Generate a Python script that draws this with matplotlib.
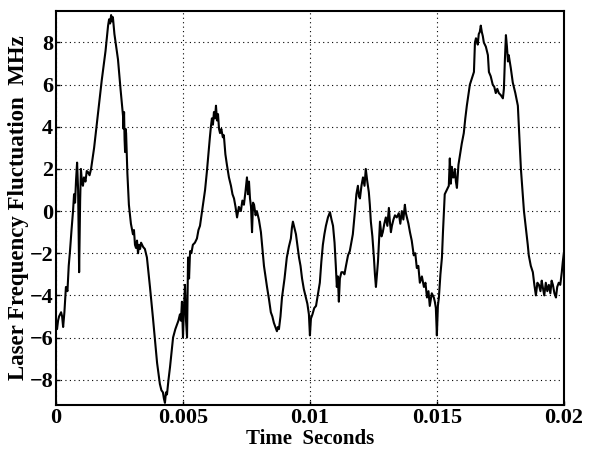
import numpy as np
import matplotlib
matplotlib.use("Agg")
import matplotlib.pyplot as plt

# trace, time in ms, frequency in MHz
t_ms = [0.00, 0.04, 0.08, 0.12, 0.16, 0.20, 0.24, 0.28, 0.33, 0.39, 0.45, 0.50, 0.55, 0.61,
        0.67, 0.71, 0.75, 0.79, 0.83, 0.87, 0.91, 0.95, 0.98, 1.02, 1.06, 1.10, 1.16, 1.21,
        1.26, 1.32, 1.38, 1.50, 1.65, 1.80, 1.95, 2.05, 2.09, 2.13, 2.17, 2.20, 2.24, 2.30,
        2.37, 2.44, 2.54, 2.64, 2.66, 2.68, 2.70, 2.72, 2.74, 2.76, 2.81, 2.87, 2.95, 3.03,
        3.07, 3.11, 3.15, 3.19, 3.23, 3.27, 3.31, 3.35, 3.43, 3.50, 3.58, 3.70, 3.82, 3.98,
        4.09, 4.15, 4.21, 4.25, 4.29, 4.33, 4.37, 4.43, 4.49, 4.61, 4.70, 4.76, 4.82, 4.88,
        4.92, 4.96, 5.00, 5.04, 5.08, 5.12, 5.16, 5.20, 5.24, 5.28, 5.33, 5.39, 5.47, 5.55,
        5.61, 5.67, 5.79, 5.87, 5.94, 6.00, 6.06, 6.10, 6.14, 6.18, 6.22, 6.26, 6.30, 6.34,
        6.38, 6.42, 6.46, 6.51, 6.57, 6.61, 6.67, 6.73, 6.81, 6.89, 6.95, 7.01, 7.07, 7.13,
        7.20, 7.28, 7.34, 7.40, 7.46, 7.52, 7.56, 7.60, 7.64, 7.68, 7.72, 7.76, 7.80, 7.86,
        7.91, 7.99, 8.07, 8.19, 8.31, 8.39, 8.46, 8.52, 8.58, 8.64, 8.70, 8.74, 8.78, 8.84,
        8.90, 9.00, 9.09, 9.17, 9.25, 9.29, 9.33, 9.39, 9.45, 9.57, 9.63, 9.69, 9.76, 9.84,
        9.90, 9.96, 10.00, 10.04, 10.10, 10.17, 10.24, 10.31, 10.39, 10.45, 10.51, 10.57,
        10.63, 10.71, 10.79, 10.85, 10.91, 10.97, 11.02, 11.06, 11.10, 11.14, 11.18, 11.24,
        11.30, 11.36, 11.42, 11.50, 11.57, 11.63, 11.69, 11.73, 11.77, 11.83, 11.89, 11.93,
        11.97, 12.03, 12.09, 12.15, 12.20, 12.26, 12.32, 12.36, 12.40, 12.46, 12.52, 12.56,
        12.60, 12.64, 12.68, 12.72, 12.76, 12.82, 12.87, 12.93, 12.99, 13.05, 13.11, 13.15,
        13.19, 13.23, 13.29, 13.35, 13.42, 13.50, 13.56, 13.62, 13.68, 13.74, 13.78, 13.82,
        13.88, 13.94, 14.01, 14.09, 14.15, 14.21, 14.27, 14.33, 14.41, 14.49, 14.55, 14.61,
        14.67, 14.72, 14.80, 14.88, 14.92, 14.96, 15.00, 15.04, 15.08, 15.14, 15.20, 15.24,
        15.28, 15.31, 15.39, 15.47, 15.51, 15.55, 15.59, 15.63, 15.67, 15.71, 15.75, 15.79,
        15.85, 15.91, 15.98, 16.06, 16.12, 16.18, 16.24, 16.30, 16.38, 16.46, 16.50, 16.54,
        16.57, 16.61, 16.65, 16.69, 16.73, 16.77, 16.81, 16.85, 16.93, 17.01, 17.05, 17.12,
        17.20, 17.26, 17.32, 17.38, 17.44, 17.52, 17.60, 17.64, 17.68, 17.72, 17.76, 17.80,
        17.83, 17.91, 17.99, 18.09, 18.19, 18.23, 18.31, 18.43, 18.58, 18.62, 18.70,
        18.78, 18.84, 18.90, 18.96, 19.02, 19.08, 19.13, 19.17, 19.23, 19.29, 19.35, 19.41,
        19.47, 19.52, 19.57, 19.63, 19.69, 19.74, 19.80, 19.86, 19.92, 19.96, 20.00]

freq_mhz = [-5.3, -5.6, -5.2, -5.0, -4.9, -4.8, -5.0, -5.5, -4.8, -3.6, -3.8, -2.6, -1.9, -0.9,
            0.0, 0.8, 0.4, 1.5, 2.3, 1.0, -2.9, 0.5, 2.0, 1.4, 1.2, 1.6, 1.4, 1.9,
            1.85, 1.7, 2.0, 3.0, 4.6, 6.2, 7.6, 8.8, 9.1, 8.9, 9.3, 9.0, 9.2, 8.4,
            7.8, 7.2, 5.8, 4.5, 3.9, 4.7, 3.4, 2.8, 3.9, 3.7, 1.8, 0.3, -0.6, -1.1,
            -0.9, -1.6, -1.75, -1.4, -2.0, -1.6, -1.8, -1.5, -1.7, -1.8, -2.2, -3.6, -5.1, -7.2,
            -8.2, -8.5, -8.6, -8.9, -9.1, -8.6, -8.7, -8.0, -7.4, -6.0, -5.6, -5.4, -5.2, -4.9,
            -5.2, -4.3, -6.0, -4.6, -3.5, -5.2, -6.0, -2.2, -3.2, -1.9, -2.0, -1.6, -1.5, -1.3,
            -0.9, -0.7, 0.3, 1.0, 1.85, 2.7, 3.5, 4.0, 4.4, 4.1, 4.7, 4.4, 5.0, 4.3,
            4.6, 3.9, 3.7, 3.9, 3.5, 3.6, 2.7, 2.2, 1.6, 1.2, 0.8, 0.6, 0.2, -0.3,
            0.2, 0.0, 0.5, 0.3, 0.9, 1.6, 0.8, 1.4, 0.6, 0.2, -1.0, 0.4, 0.3, -0.2,
            0.0, -0.4, -1.0, -2.6, -3.6, -4.2, -4.8, -5.0, -5.3, -5.5, -5.7, -5.5, -5.6, -5.0,
            -4.1, -3.2, -2.2, -1.7, -1.3, -0.8, -0.5, -0.8, -1.1, -2.2, -2.6, -3.2, -3.7, -4.1,
            -4.4, -4.9, -5.9, -5.1, -4.9, -4.6, -4.5, -4.0, -3.4, -2.4, -1.6, -1.1,
            -0.7, -0.3, -0.05, -0.4, -0.7, -1.5, -2.6, -3.6, -3.1, -4.3, -3.2, -2.9,
            -2.9, -3.0, -2.6, -2.1, -1.9, -1.5, -1.1, -0.6, -0.05, 0.8, 1.2, 0.7,
            0.6, 1.2, 1.6, 1.2, 2.0, 1.4, 0.9, 0.3, -0.5, -1.2, -2.2, -3.0,
            -3.6, -3.0, -2.4, -1.4, -0.5, -1.2, -1.0, -0.6, -0.3, -0.7, 0.15, -0.5,
            -1.0, -0.7, -0.4, -0.2, -0.3, -0.1, -0.6, 0.0, -0.4, 0.3, -0.1, -0.3,
            -0.6, -1.0, -1.4, -2.1, -2.0, -2.7, -2.6, -3.4, -3.1, -3.6, -3.4, -4.1,
            -3.8, -4.5, -3.9, -4.1, -4.3, -4.6, -5.9, -4.5, -4.1, -3.0, -2.2, -1.0,
            0.0, 0.8, 1.0, 1.2, 2.5, 1.3, 2.1, 1.6, 1.6, 2.0, 1.4, 1.1,
            2.2, 2.65, 3.2, 3.7, 4.4, 5.0, 5.5, 6.0, 6.3, 6.6, 8.0, 8.2,
            8.1, 7.9, 8.4, 8.5, 8.8, 8.5, 8.3, 8.0, 7.8, 7.4, 6.6, 6.4,
            6.0, 5.9, 5.6, 5.8, 5.6, 5.5, 5.35, 5.8, 7.2, 8.35, 7.8, 7.1,
            7.4, 6.8, 6.1, 5.6, 5.0, 4.0, 2.0, 0.0, -1.6, -2.1, -2.6,
            -2.9, -3.5, -4.0, -3.4, -3.5, -3.8, -3.3, -3.6, -4.0, -3.4, -3.8, -3.5,
            -3.9, -3.3, -3.5, -3.9, -4.1, -3.6, -3.4, -3.5, -2.9, -2.4, -2.0]

time_ticks = [0, 0.005, 0.01, 0.015, 0.02]
time_tick_labels = ["0", "0.005", "0.01", "0.015", "0.02"]
freq_ticks = [-8, -6, -4, -2, 0, 2, 4, 6, 8]

plt.rcParams['font.family'] = ['Liberation Serif', 'DejaVu Serif']
plt.rcParams['font.weight'] = 'bold'

fig = plt.figure(figsize=(5.96, 4.53), dpi=100)
ax = fig.add_axes([0.094, 0.106, 0.852, 0.870])

t = np.array(t_ms) / 1000.0
ax.plot(t, freq_mhz, color='black', linewidth=1.5)

ax.set_xlim(0, 0.02)
ax.set_ylim(-9.2, 9.5)
ax.set_xticks(time_ticks)
ax.set_xticklabels(time_tick_labels)
ax.set_yticks(freq_ticks)
ax.tick_params(direction='in', length=3, labelsize=16, width=1, pad=2)
for lab in ax.get_xticklabels() + ax.get_yticklabels():
    lab.set_fontweight('bold')
ax.grid(True, linestyle=(0, (1, 3)), color='black', linewidth=0.8)
for s in ax.spines.values():
    s.set_linewidth(1.5)

ax.set_xlabel("Time  Seconds", fontsize=15, fontweight='bold', labelpad=1)
ax.set_ylabel("Laser Frequency Fluctuation  MHz", fontsize=16.5, fontweight='bold', labelpad=0.5)

fig.savefig("out.png", dpi=100)
